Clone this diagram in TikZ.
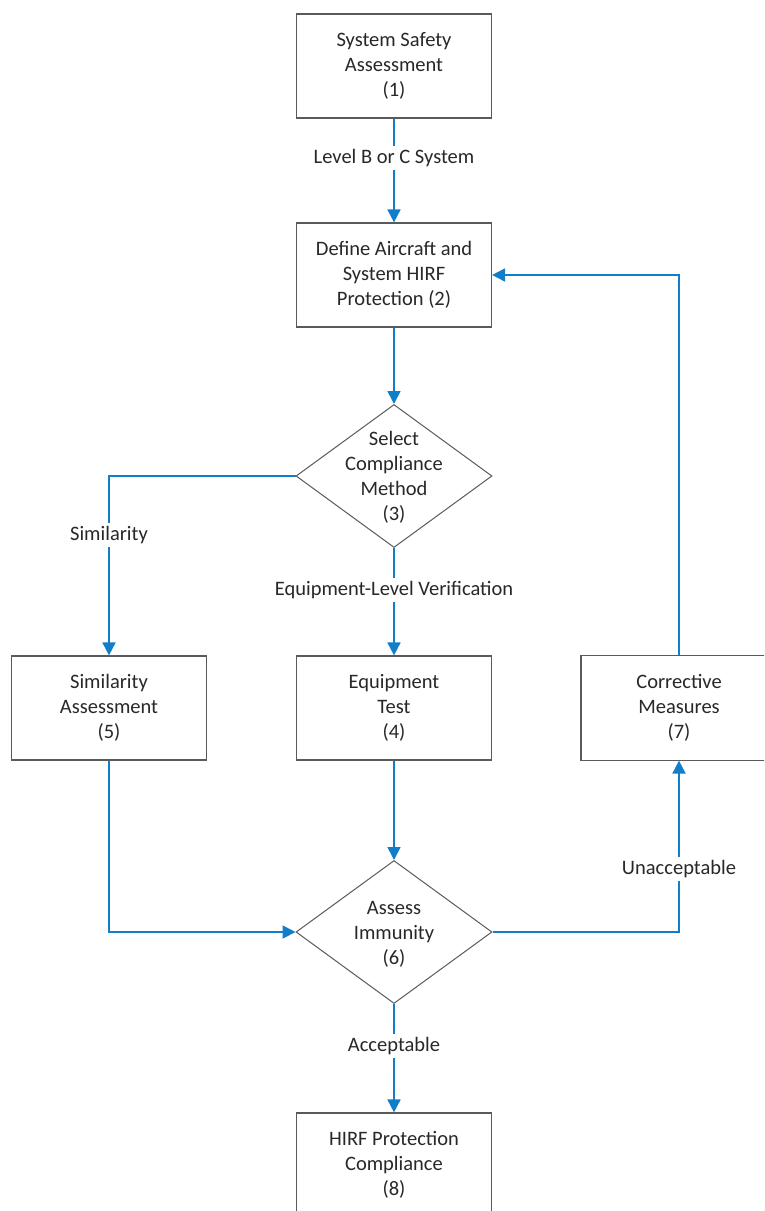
\documentclass[tikz,border=0pt]{standalone}
\usepackage{fontspec}
\setmainfont{Carlito}
\usetikzlibrary{shapes.geometric,arrows.meta}
\definecolor{flow}{RGB}{18,125,200}
\definecolor{edge}{RGB}{90,90,90}
\definecolor{ink}{RGB}{40,40,40}
\tikzset{
  txt/.style={text=ink, font=\fontsize{20.5}{25}\selectfont},
  box/.style={txt, draw=edge, line width=1.2pt, fill=white, minimum width=195pt, minimum height=104pt, inner sep=0pt, align=center},
  side/.style={draw=edge, line width=1.2pt},
  dia/.style={draw=edge, line width=1pt, shape=diamond, minimum width=196pt, minimum height=143pt, inner sep=0pt, aspect=1.37},
  dtext/.style={txt, align=center},
  conn/.style={draw=flow, line width=1.8pt, -{Triangle[length=13pt,width=13pt]}},
  lab/.style={txt, fill=white, inner sep=3pt}
}
\begin{document}
\begin{tikzpicture}[x=1pt,y=-1pt]
\useasboundingbox (0,0) rectangle (764,1211);
\clip (0,0) rectangle (764,1211);
\node[box] (b1) at (394,66) {System Safety\\Assessment\\(1)};
\node[box] (b2) at (394,275) {Define Aircraft and\\System HIRF\\Protection (2)};
\node[dia] (d3) at (394,476) {};
\node[dtext] (t3) at (394,477) {Select\\Compliance\\Method\\(3)};
\node[box] (b5) at (109,708) {Similarity\\Assessment\\(5)};
\node[box] (b4) at (394,708) {Equipment\\Test\\(4)};
\node[box, draw=none, minimum width=230pt] (b7) at (679,708) {Corrective\\Measures\\(7)};
\draw[side] (b7.north east) -- ([xshift=17.5pt]b7.north west) -- ([xshift=17.5pt]b7.south west) -- (b7.south east);
\node[dia] (d6) at (394,932) {};
\node[dtext] (t6) at (394,934) {Assess\\Immunity\\(6)};
\node[box] (b8) at (394,1165) {HIRF Protection\\Compliance\\(8)};

\draw[conn] (b1.south) -- (b2.north);
\node[lab] (l1) at (394,158) {Level B or C System};
\draw[conn] (b2.south) -- (d3.north);
\draw[conn] (d3.west) -| (b5.north);
\node[lab] (l2) at (109,535) {Similarity};
\draw[conn] (d3.south) -- (b4.north);
\node[lab] (l3) at (394,590) {Equipment-Level Verification};
\draw[conn] (b4.south) -- (d6.north);
\draw[conn] (b5.south) |- (d6.west);
\draw[conn] (d6.east) -| (b7.south);
\node[lab] (l4) at (679,869) {Unacceptable};
\draw[conn] (b7.north) |- (b2.east);
\draw[conn] (d6.south) -- (b8.north);
\node[lab] (l5) at (394,1046) {Acceptable};
\end{tikzpicture}
\end{document}
